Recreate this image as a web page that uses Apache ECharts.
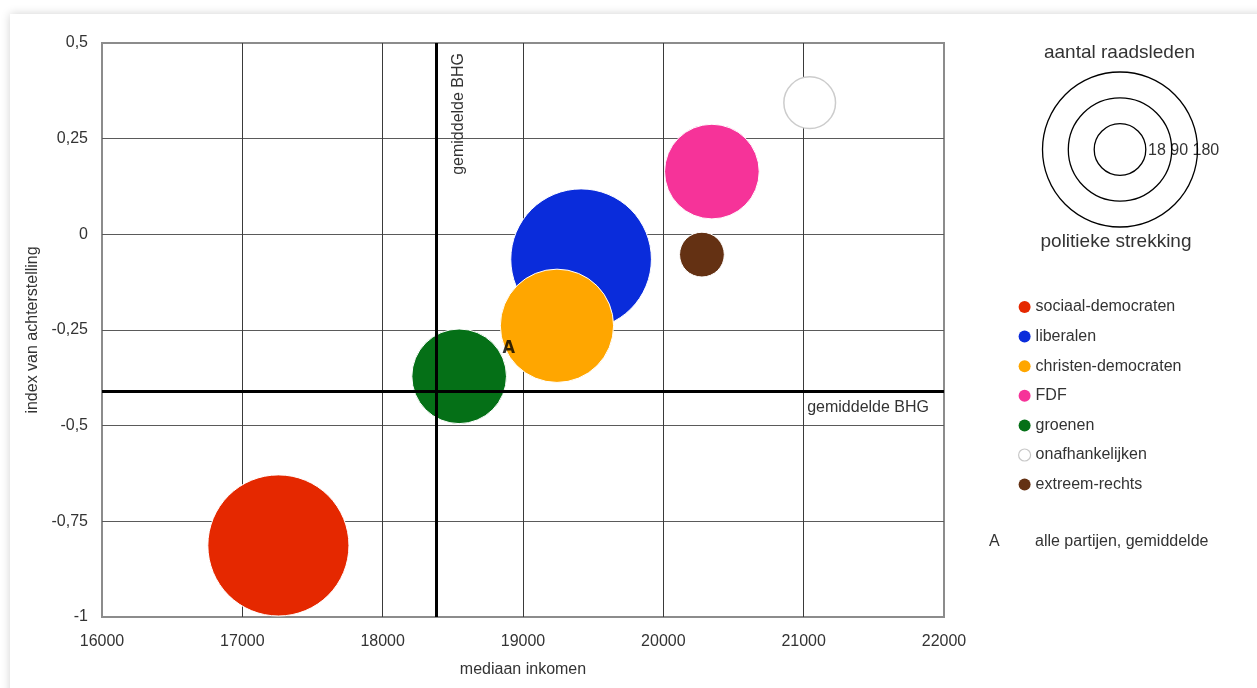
<!DOCTYPE html>
<html>
<head>
<meta charset="utf-8">
<script src="https://cdn.jsdelivr.net/npm/echarts@6/dist/echarts.min.js"></script>
<style>
html,body{margin:0;padding:0;background:#fff;width:1257px;height:688px;overflow:hidden;}
#card{position:absolute;left:10px;top:14px;width:1260px;height:700px;background:#fff;box-shadow:0 0 9px rgba(0,0,0,0.18);}
#chart{position:absolute;left:0;top:0;width:1257px;height:688px;}
</style>
</head>
<body>
<div id="card"></div>
<div id="chart"></div>
<script>
// ---- data ----
const parties = ['sociaal-democraten','liberalen','christen-democraten','FDF','groenen','onafhankelijken','extreem-rechts'];
const medianIncome = [17257, 19414, 19242, 20346, 18545, 21043, 20275];
const deprivationIndex = [-0.813, -0.065, -0.239, 0.164, -0.371, 0.344, -0.053];
const councillors = [149, 148, 96, 67, 67, 20, 15];
const partyColors = ['#E52800','#0A2CDB','#FFA600','#F63399','#057017','#FFFFFF','#643113'];
const averageAll = [18899, -0.292];      // point "A"
const averageBHG = {income: 18384, index: -0.409};
const sizeLegendValues = [18, 90, 180];

const FONT = '"Liberation Sans", Arial, sans-serif';
const TXT = '#333';
const K = 5.78; // radius per sqrt(councillors)

const series = parties.map((p, i) => ({
  name: p,
  type: 'scatter',
  data: [[medianIncome[i], deprivationIndex[i], councillors[i]]],
  symbolSize: d => 2 * K * Math.sqrt(d[2]),
  itemStyle: {
    color: partyColors[i],
    opacity: 1,
    borderColor: i === 5 ? '#cccccc' : '#ffffff',
    borderWidth: i === 5 ? 1.5 : 1
  },
  emphasis: {disabled: true},
  z: 3
}));

series.push({
  name: 'gemiddelde',
  type: 'scatter',
  data: [averageAll],
  symbolSize: 0,
  label: {
    show: true, position: 'inside', formatter: 'A',
    fontFamily: '"DejaVu Sans Condensed","DejaVu Sans",sans-serif', fontWeight: 'bold',
    fontSize: 18, color: '#000', offset: [0, 2]
  },
  emphasis: {disabled: true},
  z: 5,
  markLine: {
    silent: true, symbol: 'none', animation: false,
    lineStyle: {color: '#000', width: 3, type: 'solid'},
    data: [
      {xAxis: averageBHG.income, label: {show: true, formatter: 'gemiddelde BHG', position: 'insideEndBottom', distance: [10, 14], fontFamily: FONT, fontSize: 16, color: TXT}},
      {yAxis: averageBHG.index, label: {show: true, formatter: 'gemiddelde BHG', position: 'insideEndBottom', distance: [15, 8], fontFamily: FONT, fontSize: 16, color: TXT}}
    ]
  }
});

const fmtY = v => String(v).replace('.', ',');

const lx = 1120, ly = 149.5;
const legendRadii = [25.8, 51.7, 77.5];
const graphic = [
  {type: 'text', x: 1119.5, y: 53, style: {text: 'aantal raadsleden', font: '19px ' + FONT, fill: TXT, textAlign: 'center', textVerticalAlign: 'middle'}},
  {type: 'text', x: 1116, y: 242, style: {text: 'politieke strekking', font: '19px ' + FONT, fill: TXT, textAlign: 'center', textVerticalAlign: 'middle'}},
  {type: 'text', x: 1148, y: 151, style: {text: sizeLegendValues.join(' '), font: '16px ' + FONT, fill: TXT, textAlign: 'left', textVerticalAlign: 'middle'}},
  {type: 'text', x: 989, y: 542, style: {text: 'A', font: '16px ' + FONT, fill: TXT, textAlign: 'left', textVerticalAlign: 'middle'}},
  {type: 'text', x: 1035, y: 542, style: {text: 'alle partijen, gemiddelde', font: '16px ' + FONT, fill: TXT, textAlign: 'left', textVerticalAlign: 'middle'}}
].concat(legendRadii.map(r => ({
  type: 'circle', shape: {cx: lx, cy: ly, r: r}, style: {fill: null, stroke: '#000', lineWidth: 1.3}, silent: true
})));

const legendData = parties.map((p, i) => ({
  name: p,
  itemStyle: i === 5 ? {color: '#fff', borderColor: '#c8c8c8', borderWidth: 1.2} : {borderWidth: 0}
}));

const chart = echarts.init(document.getElementById('chart'), null, {renderer: 'canvas'});
chart.setOption({
  backgroundColor: 'transparent',
  animation: false,
  grid: {left: 102, top: 43, right: 313, bottom: 71, show: true, borderColor: '#8c8c8c', borderWidth: 2, backgroundColor: 'transparent'},
  xAxis: {
    type: 'value', min: 16000, max: 22000, interval: 1000,
    name: 'mediaan inkomen', nameLocation: 'middle', nameGap: 45,
    nameTextStyle: {fontFamily: FONT, fontSize: 16, color: TXT},
    axisLine: {show: false}, axisTick: {show: false},
    axisLabel: {fontFamily: FONT, fontSize: 16, color: TXT, margin: 17, formatter: v => String(v)},
    splitLine: {show: true, showMinLine: false, showMaxLine: false, lineStyle: {color: '#3a3a3a', width: 1}}
  },
  yAxis: {
    type: 'value', min: -1, max: 0.5, interval: 0.25,
    name: 'index van achterstelling', nameLocation: 'middle', nameGap: 59, nameRotate: 90,
    nameTextStyle: {fontFamily: FONT, fontSize: 16, color: TXT},
    axisLine: {show: false}, axisTick: {show: false},
    axisLabel: {fontFamily: FONT, fontSize: 16, color: TXT, margin: 14, formatter: fmtY},
    splitLine: {show: true, showMinLine: false, showMaxLine: false, lineStyle: {color: '#5a5a5a', width: 1}}
  },
  legend: {
    orient: 'vertical', left: 1013, top: 294, padding: 5,
    data: legendData, icon: 'circle', itemWidth: 12, itemHeight: 12, itemGap: 13.6,
    textStyle: {fontFamily: FONT, fontSize: 16, color: TXT},
    selectedMode: false
  },
  graphic: graphic,
  series: series
});
</script>
</body>
</html>
